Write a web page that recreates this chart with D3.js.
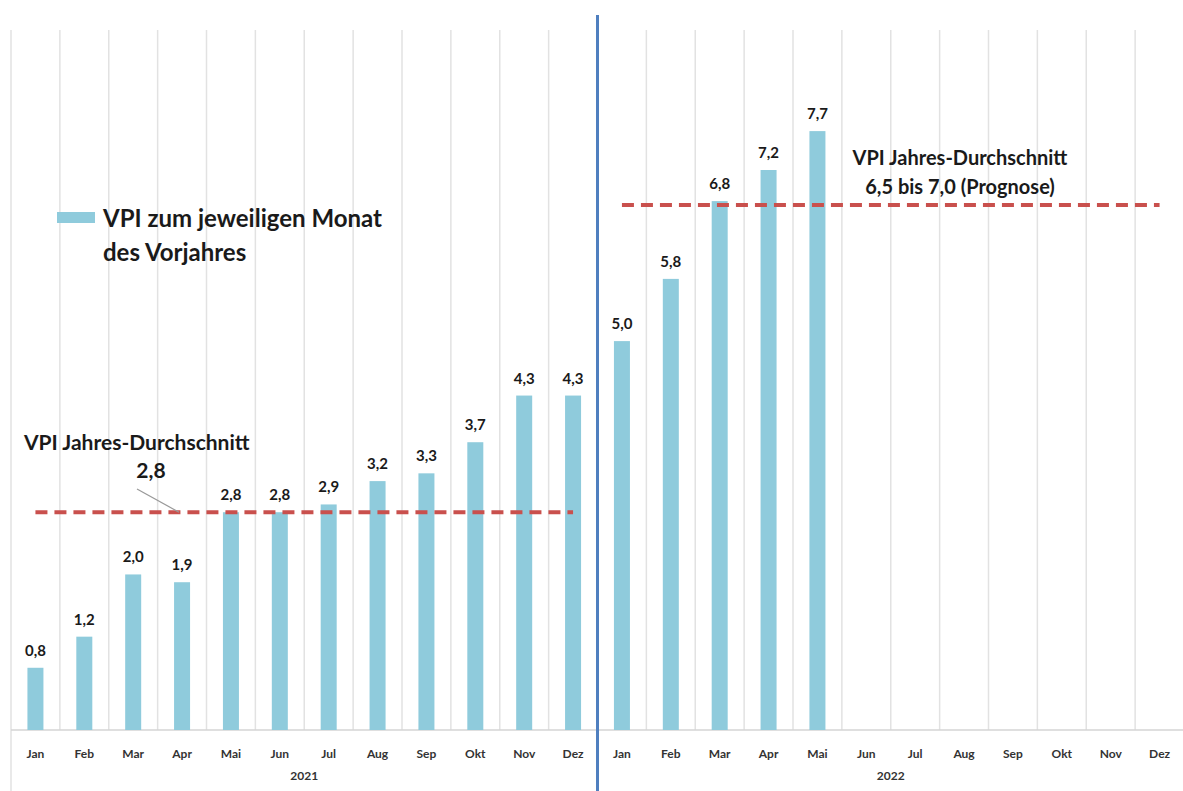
<!DOCTYPE html>
<html>
<head>
<meta charset="utf-8">
<script src="https://cdn.jsdelivr.net/npm/d3@7"></script>
<style>
    body { margin: 0; background: #fff; }
    text { font-family: Lato, "Open Sans", sans-serif; }
</style>
</head>
<body>
<svg id="vpi_svg" width="1183" height="791"></svg>
<script>
// data
const months = ['Jan', 'Feb', 'Mar', 'Apr', 'Mai', 'Jun', 'Jul', 'Aug', 'Sep', 'Okt', 'Nov', 'Dez'];
const years = ['2021', '2022'];
const vpi2021 = [0.8, 1.2, 2.0, 1.9, 2.8, 2.8, 2.9, 3.2, 3.3, 3.7, 4.3, 4.3];
const vpi2022 = [5.0, 5.8, 6.8, 7.2, 7.7];
const yearAverages = [2.8, 6.75];   // 2022: Prognose 6,5 bis 7,0
const yMax = 9;

const colors = {
    bar: '#8fcbdc',
    avgLine: '#c9504d',
    grid: '#e2e2e2',
    separator: '#4f7fbf',
    text: '#1a1a1a'
}

const de = d3.formatLocale({decimal: ',', thousands: '.', grouping: [3], currency: ['', ' €']});
const fmt = de.format('.1f');

// one row per month of both years
const rows = [];
years.forEach(function (year, yi) {
    const values = yi === 0 ? vpi2021 : vpi2022;
    months.forEach(function (m, mi) {
        rows.push({key: year + '-' + m, year: year, month: m, value: values[mi]});
    });
});

const svg = d3.select('#vpi_svg');
const svgWidth = +svg.attr('width');
const svgHeight = +svg.attr('height');

const margin = {top: 30, right: 0, bottom: 61, left: 11};
const plotBottom = svgHeight - margin.bottom;

const xScale = d3.scaleBand()
    .domain(rows.map(d => d.key))
    .range([margin.left, svgWidth + 1])
    .padding(0);

const yScale = d3.scaleLinear()
    .domain([0, yMax])
    .range([plotBottom, margin.top]);

const barWidth = 16;
const center = k => xScale(k) + xScale.bandwidth() / 2;

// vertical gridlines between months
const bounds = rows.map(d => xScale(d.key)).concat([xScale.range()[1]]);
svg.append('g')
    .selectAll('line')
    .data(bounds)
    .enter()
    .append('line')
    .attr('x1', d => d)
    .attr('x2', d => d)
    .attr('y1', yScale(yMax))
    .attr('y2', (d, i) => i === 0 ? svgHeight : plotBottom)
    .attr('stroke', colors.grid)
    .attr('stroke-width', 1.5);

// baseline
svg.append('line')
    .attr('x1', xScale.range()[0])
    .attr('x2', xScale.range()[1])
    .attr('y1', yScale(0))
    .attr('y2', yScale(0))
    .attr('stroke', '#d4d4d4')
    .attr('stroke-width', 1.5);

// bars
const withValue = rows.filter(d => d.value !== undefined);
svg.append('g')
    .selectAll('rect')
    .data(withValue)
    .enter()
    .append('rect')
    .attr('x', d => center(d.key) - barWidth / 2)
    .attr('y', d => yScale(d.value))
    .attr('width', barWidth)
    .attr('height', d => yScale(0) - yScale(d.value))
    .attr('fill', colors.bar);

// value labels
svg.append('g')
    .selectAll('text')
    .data(withValue)
    .enter()
    .append('text')
    .attr('x', d => center(d.key))
    .attr('y', d => yScale(d.value) - 12)
    .attr('text-anchor', 'middle')
    .style('font-size', '15px')
    .style('font-weight', 'bold')
    .attr('fill', colors.text)
    .text(d => fmt(d.value));

// year average lines (dashed)
years.forEach(function (year, yi) {
    svg.append('line')
        .attr('x1', center(year + '-' + months[0]))
        .attr('x2', center(year + '-' + months[11]))
        .attr('y1', yScale(yearAverages[yi]))
        .attr('y2', yScale(yearAverages[yi]))
        .attr('stroke', colors.avgLine)
        .attr('stroke-width', 4)
        .attr('stroke-dasharray', '12,7');
});

// month axis
const xAxis = d3.axisBottom(xScale)
    .tickSize(0)
    .tickPadding(0)
    .tickFormat(k => k.split('-')[1]);

const axisG = svg.append('g')
    .attr('transform', `translate(0, ${plotBottom + 19})`)
    .call(xAxis);
axisG.select('.domain').remove();
axisG.selectAll('text')
    .attr('dy', '0.71em')
    .style('font-family', 'Lato, sans-serif')
    .style('font-size', '12px')
    .style('font-weight', 'bold')
    .attr('fill', '#333');

// year labels
svg.append('g')
    .selectAll('text')
    .data(years)
    .enter()
    .append('text')
    .attr('x', y => (center(y + '-Jan') + center(y + '-Dez')) / 2)
    .attr('y', plotBottom + 50)
    .attr('text-anchor', 'middle')
    .style('font-size', '12px')
    .style('font-weight', 'bold')
    .attr('fill', '#333')
    .text(y => y);

// separator between the years
const sepX = xScale('2022-Jan');
svg.append('line')
    .attr('x1', sepX)
    .attr('x2', sepX)
    .attr('y1', 15)
    .attr('y2', svgHeight)
    .attr('stroke', colors.separator)
    .attr('stroke-width', 3);

// legend
const legendG = svg.append('g')
    .attr('transform', 'translate(57, 212)');
legendG.append('rect')
    .attr('width', 38)
    .attr('height', 11)
    .attr('fill', colors.bar);
legendG.append('text')
    .attr('x', 46)
    .attr('y', 15)
    .style('font-size', '24px')
    .style('font-weight', 'bold')
    .attr('fill', colors.text)
    .text('VPI zum jeweiligen Monat');
legendG.append('text')
    .attr('x', 46)
    .attr('y', 49)
    .style('font-size', '24px')
    .style('font-weight', 'bold')
    .attr('fill', colors.text)
    .text('des Vorjahres');

// annotation 2021
svg.append('text')
    .attr('x', 24)
    .attr('y', 450)
    .style('font-size', '21px')
    .style('font-weight', 'bold')
    .attr('fill', colors.text)
    .text('VPI Jahres-Durchschnitt');
svg.append('text')
    .attr('x', 151)
    .attr('y', 478)
    .attr('text-anchor', 'middle')
    .style('font-size', '21px')
    .style('font-weight', 'bold')
    .attr('fill', colors.text)
    .text(fmt(yearAverages[0]));
svg.append('line')
    .attr('x1', 137)
    .attr('y1', 489)
    .attr('x2', 179)
    .attr('y2', yScale(yearAverages[0]))
    .attr('stroke', '#999')
    .attr('stroke-width', 1.2);

// annotation 2022
const noteG = svg.append('g')
    .attr('transform', 'translate(960, 0)');
noteG.append('text')
    .attr('y', 165)
    .attr('text-anchor', 'middle')
    .style('font-size', '20px')
    .style('font-weight', 'bold')
    .attr('fill', colors.text)
    .text('VPI Jahres-Durchschnitt');
noteG.append('text')
    .attr('y', 194)
    .attr('text-anchor', 'middle')
    .style('font-size', '20px')
    .style('font-weight', 'bold')
    .attr('fill', colors.text)
    .text('6,5 bis 7,0 (Prognose)');
</script>
</body>
</html>
